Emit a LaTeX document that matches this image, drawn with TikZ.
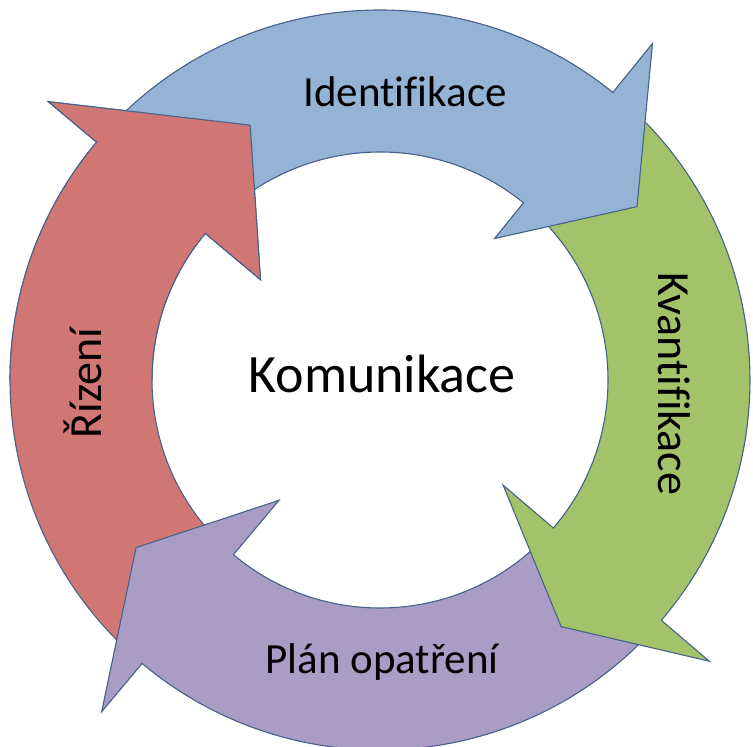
\documentclass[tikz,border=0pt]{standalone}
\usepackage{fontspec}
\setmainfont{Carlito}[Ligatures=NoCommon]
\usepackage{tikz}
\definecolor{ringblue}{RGB}{149,179,213}
\definecolor{ringred}{RGB}{208,119,117}
\definecolor{ringgreen}{RGB}{163,195,106}
\definecolor{ringpurple}{RGB}{169,156,197}
\definecolor{ringline}{RGB}{72,98,138}
\tikzset{
	ringpart/.style={draw=ringline, line width=1.1pt, line join=miter},
	steptext/.style={font=\fontsize{43}{50}\selectfont, anchor=base, inner sep=0pt},
	sidetext/.style={font=\fontsize{46}{54}\selectfont, anchor=base, inner sep=0pt},
	centertext/.style={font=\fontsize{54}{62}\selectfont, anchor=base, inner sep=0pt}
}
% tail angle : base angle of the head : tip angle : tip radius : inner barb radius
\def\cyclearrow[#1](#2:#3:#4:#5:#6){\draw[#1] (#2:228pt) -- (#2:370pt) arc[start angle=#2, end angle=#3, radius=370pt] -- (#3:433pt) -- (#4:#5) -- (#3:#6) -- (#3:228pt) arc[start angle=#3, end angle=#2, radius=228pt] -- cycle;}

\begin{document}
\begin{tikzpicture}
			%%%%% START %%%%%
			
			\useasboundingbox (-380pt,-367pt) rectangle (373pt,380pt);
			
			\cyclearrow[ringpart, fill=ringred](227:140:117:286pt:156pt);
			\cyclearrow[ringpart, fill=ringpurple](-43:-130:-145.5:296pt:157pt);
			\cyclearrow[ringpart, fill=ringgreen](48:-40.5:-53.7:306pt:162pt);
			\cyclearrow[ringpart, fill=ringblue](137:51:34:310pt:182pt);
			
			% red head once more, over the blue tail
			\begin{scope}
				\clip (-380pt,0pt) rectangle (0pt,380pt);
				\cyclearrow[ringpart, fill=ringred](227:140:117:286pt:156pt);
			\end{scope}
			
			\node[steptext] (ident) at (25pt,273pt) {Identifikace};
			\node[sidetext, rotate=-90] (kvant) at (278pt,-4pt) {Kvantifikace};
			\node[steptext] (plan) at (2pt,-293pt) {Plán opatření};
			\node[sidetext, rotate=90] (rizeni) at (-278pt,-3pt) {Řízení};
			\node[centertext] (komun) at (2pt,-13pt) {Komunikace};
			
			%%%%% END %%%%%
\end{tikzpicture}
\end{document}
